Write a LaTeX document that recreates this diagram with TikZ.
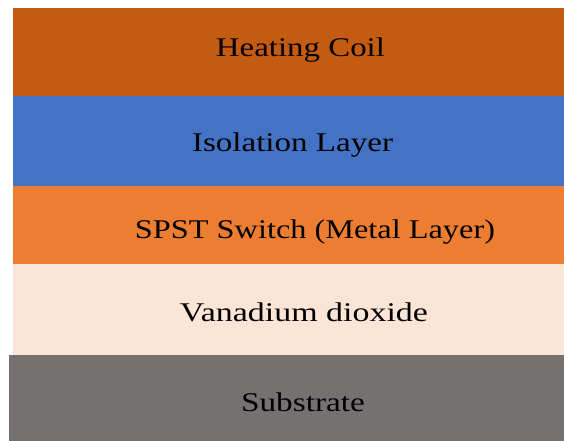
\documentclass[tikz,border=0pt]{standalone}
\usepackage{fontspec}
\setmainfont{Liberation Serif}
\usepackage{graphicx}
\definecolor{coilc}{HTML}{C55A11}
\definecolor{isoc}{HTML}{4472C4}
\definecolor{spstc}{HTML}{ED7D31}
\definecolor{vanc}{HTML}{FBE5D6}
\definecolor{subc}{HTML}{767171}
\begin{document}
\begin{tikzpicture}[x=1pt,y=1pt,
  layer/.style={draw=none, inner sep=0pt, outer sep=0pt, anchor=north west},
  lbl/.style={inner sep=0pt, anchor=base, text=black, font=\fontsize{27}{30}\selectfont}]
\useasboundingbox (0,0) rectangle (564,441);
\node[layer, fill=coilc, minimum width=551pt, minimum height=88pt] (coil) at (13,433) {};
\node[layer, fill=isoc, minimum width=551pt, minimum height=90pt] (iso) at (13,345) {};
\node[layer, fill=spstc, minimum width=551pt, minimum height=78pt] (spst) at (13,255) {};
\node[layer, fill=vanc, minimum width=551pt, minimum height=91pt] (van) at (13,177) {};
\node[layer, fill=subc, minimum width=555pt, minimum height=86pt] (sub) at (9,86) {};
\node[lbl] (coilt) at (300.5,384) {\resizebox{169pt}{\height}{Heating Coil}};
\node[lbl] (isot) at (292.5,289) {\resizebox{201pt}{\height}{Isolation Layer}};
\node[lbl] (spstt) at (315,202) {\resizebox{360pt}{\height}{SPST Switch (Metal Layer)}};
\node[lbl] (vant) at (304,119) {\resizebox{248pt}{\height}{Vanadium dioxide}};
\node[lbl] (subt) at (303,29) {\resizebox{124pt}{\height}{Substrate}};
\end{tikzpicture}
\end{document}
